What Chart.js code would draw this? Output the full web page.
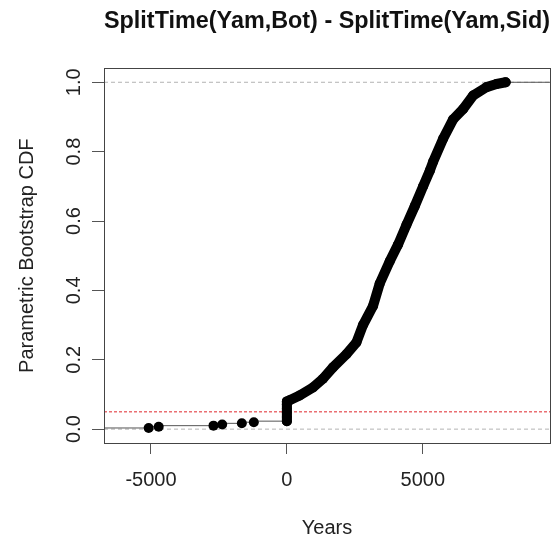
<!DOCTYPE html>
<html>
<head>
<meta charset="utf-8">
<script src="https://cdn.jsdelivr.net/npm/chart.js@4/dist/chart.umd.min.js"></script>
<style>
  html, body { margin: 0; padding: 0; background: #fff; }
  #wrap { width: 558px; height: 543px; }
</style>
</head>
<body>
<div id="wrap"><canvas id="cdf"></canvas></div>
<script>
// Bootstrap draws below zero (sparse dots on the left)
const leftYears = [-5085, -4716, -2700, -2380, -1658, -1216];
const leftCdf = [0.0033, 0.0067, 0.010, 0.0133, 0.0167, 0.020];

// Dense part of the ECDF, from the stack at 0 up to the last draw
const curveYears = [0, 0, 0, 0, 0, 0, 100, 468, 958, 1327, 1695, 2188, 2557, 2800, 3169,
    3416, 3784, 4090, 4399, 4705, 5011, 5258, 5380, 5748, 6116, 6485, 6853, 7345, 7714, 8050];
const curveCdf = [0.023, 0.035, 0.047, 0.059, 0.071, 0.080, 0.083, 0.097, 0.120, 0.145, 0.178,
    0.216, 0.250, 0.300, 0.355, 0.420, 0.484, 0.532, 0.589, 0.643, 0.700, 0.745, 0.771, 0.837,
    0.893, 0.923, 0.962, 0.986, 0.995, 1.0];

const xTicks = [-5000, 0, 5000];
const yTicks = [0, 0.2, 0.4, 0.6, 0.8, 1.0];
const xRange = [-6728, 9680];
const yRange = [-0.04, 1.04];
const refLevels = [0, 1];
const alphaLevel = 0.05;

const toPoints = (xs, ys) => xs.map((x, i) => ({ x: x, y: ys[i] }));
const hLine = (y) => [{ x: xRange[0], y: y }, { x: xRange[1], y: y }];

const leftPoints = toPoints(leftYears, leftCdf);
const curvePoints = toPoints(curveYears, curveCdf);
// thin ECDF steps: left tail up to the stack at 0, and the flat run after the last draw
const leadSteps = [{ x: xRange[0], y: 0 }, ...leftPoints, curvePoints[0]];
const tailSteps = [curvePoints[curvePoints.length - 1], { x: xRange[1], y: 1 }];

const FONT = "'Liberation Sans', Arial, Helvetica, sans-serif";

// plot box on all four sides, like R's box()
const framePlugin = {
    id: 'frame',
    afterDraw(chart) {
        const { ctx, chartArea: a } = chart;
        ctx.save();
        ctx.strokeStyle = '#444';
        ctx.lineWidth = 1;
        ctx.strokeRect(Math.round(a.left) + 0.5, Math.round(a.top) + 0.5,
            Math.round(a.right - a.left), Math.round(a.bottom - a.top));
        ctx.restore();
    }
};

const refDataset = (y) => ({
    data: hLine(y),
    borderColor: '#b3b3b3',
    borderWidth: 1,
    borderDash: [4, 3],
    pointRadius: 0,
    order: 5
});

const stepDataset = (pts) => ({
    data: pts,
    borderColor: '#555',
    borderWidth: 1,
    stepped: 'after',
    pointRadius: 0,
    order: 3
});

new Chart(document.getElementById('cdf'), {
    type: 'line',
    data: {
        datasets: [
            ...refLevels.map(refDataset),
            {
                data: hLine(alphaLevel),
                borderColor: '#ea6f72',
                borderWidth: 1.5,
                borderDash: [3, 2],
                pointRadius: 0,
                order: 4
            },
            stepDataset(leadSteps),
            stepDataset(tailSteps),
            {
                data: leftPoints,
                showLine: false,
                pointRadius: 5,
                pointBackgroundColor: '#000',
                pointBorderWidth: 0,
                order: 2
            },
            {
                data: curvePoints,
                borderColor: '#000',
                borderWidth: 10,
                borderJoinStyle: 'round',
                borderCapStyle: 'round',
                tension: 0,
                pointRadius: 5,
                pointBackgroundColor: '#000',
                pointBorderWidth: 0,
                order: 1
            }
        ]
    },
    options: {
        responsive: true,
        maintainAspectRatio: false,
        animation: false,
        layout: { padding: { left: 0, right: 8, top: 0, bottom: 0 } },
        plugins: {
            legend: { display: false },
            tooltip: { enabled: false },
            title: {
                display: true,
                fullSize: false,
                text: 'SplitTime(Yam,Bot) - SplitTime(Yam,Sid)',
                color: '#111',
                font: { family: FONT, size: 24.5, weight: 'bold' },
                padding: { top: 7, bottom: 32 }
            }
        },
        scales: {
            x: {
                type: 'linear',
                min: xRange[0],
                max: xRange[1],
                afterBuildTicks: (scale) => { scale.ticks = xTicks.map(v => ({ value: v })); },
                afterFit: (scale) => { scale.height = 100; },
                border: { display: false },
                grid: { drawOnChartArea: false, drawTicks: true, tickLength: 11, color: '#555' },
                ticks: {
                    color: '#222',
                    padding: 14,
                    maxRotation: 0,
                    font: { family: FONT, size: 20 },
                    callback: (v) => String(v)
                },
                title: {
                    display: true,
                    text: 'Years',
                    color: '#222',
                    font: { family: FONT, size: 20 },
                    padding: { top: 0, bottom: 3 }
                }
            },
            y: {
                type: 'linear',
                min: yRange[0],
                max: yRange[1],
                afterBuildTicks: (scale) => { scale.ticks = yTicks.map(v => ({ value: v })); },
                afterFit: (scale) => { scale.width = 104; },
                border: { display: false },
                grid: { drawOnChartArea: false, drawTicks: true, tickLength: 12, color: '#555' },
                ticks: {
                    color: '#222',
                    padding: 4,
                    minRotation: 90,
                    maxRotation: 90,
                    crossAlign: 'center',
                    font: { family: FONT, size: 20 },
                    callback: (v) => v.toFixed(1)
                },
                title: {
                    display: true,
                    text: 'Parametric Bootstrap CDF',
                    color: '#222',
                    font: { family: FONT, size: 20 },
                    padding: { top: 15, bottom: 0 }
                }
            }
        }
    },
    plugins: [framePlugin]
});
</script>
</body>
</html>
